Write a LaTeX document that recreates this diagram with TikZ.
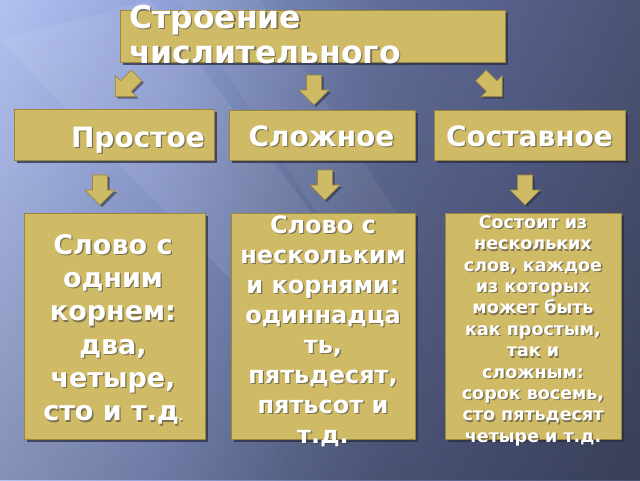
\documentclass[tikz,border=0pt]{standalone}
\usepackage{fontspec}
\setmainfont{DejaVu Sans}
\usetikzlibrary{shadows,fadings,calc}
\definecolor{boxfill}{HTML}{CFBA65}
\definecolor{boxedge}{HTML}{9A863C}
\definecolor{shd}{HTML}{2A2E44}
\definecolor{txtshd}{HTML}{3A3A40}
\definecolor{bgA}{HTML}{B2C2F2}
\definecolor{bgB}{HTML}{93A3DA}
\definecolor{bgC}{HTML}{7282B0}
\definecolor{bgD}{HTML}{626E98}
\definecolor{bgE}{HTML}{56608A}
\definecolor{bgF}{HTML}{4C5474}
\pgfdeclarehorizontalshading{bgshade}{100bp}{color(0bp)=(bgA); color(25bp)=(bgA); color(37.5bp)=(bgB); color(47.5bp)=(bgC); color(55bp)=(bgD); color(65bp)=(bgE); color(75bp)=(bgF); color(100bp)=(bgF)}
\tikzset{
  box/.style={draw=boxedge, line width=1pt, fill=boxfill, inner sep=0pt,
    drop shadow={shadow xshift=2.5pt, shadow yshift=-2.5pt, fill=shd, opacity=0.75}},
  lbl/.style={inner sep=0pt, font=\bfseries\fontsize{28}{34}\selectfont},
  pics/blockarrow/.style={code={\path[pic actions] (-7.5,-15)--(7.5,-15)--(7.5,0)--(15,0)--(0,15)--(-15,0)--(-7.5,0)--cycle;}},
  arrowshadow/.style={fill=shd, fill opacity=0.6},
  arrowbody/.style={fill=boxfill, draw=boxedge, line width=0.6pt}
}
\newcommand\shlabel[4]{%
  \node[#3, text=txtshd, text opacity=0.55, xshift=1.3pt, yshift=-1.3pt] at (#2) {#4};
  \node[#3, text=white] (#1) at (#2) {#4};}
\newcommand\myarrow[3]{%
  \pic[arrowshadow, rotate=#3] at ($(#2)+(2,2)$) {blockarrow};
  \pic[arrowbody, rotate=#3] (#1) at (#2) {blockarrow};}
\begin{document}
\begin{tikzpicture}[x=1pt,y=-1pt]
\useasboundingbox (0,0) rectangle (640,480);
\shade[shading=bgshade] (0,0) rectangle (640,480);
\fill[black, path fading=north, fill opacity=0.25] (0,0) rectangle (640,480);
\fill[white, fill opacity=0.08] (0,40) -- (150,0) -- (340,250) -- (250,300) -- cycle;
\fill[white, fill opacity=0.05] (180,0) -- (260,0) -- (420,250) -- (360,280) -- cycle;

% boxes
\node[box, minimum width=385pt, minimum height=52pt] (title) at (312.5,36) {};
\node[box, minimum width=200pt, minimum height=51pt] (b1) at (114,134.5) {};
\node[box, minimum width=186pt, minimum height=50pt] (b2) at (322,135) {};
\node[box, minimum width=191pt, minimum height=50pt] (b3) at (529.5,135) {};
\node[box, minimum width=181pt, minimum height=226pt] (d1) at (114.5,326) {};
\node[box, minimum width=184pt, minimum height=226pt] (d2) at (323,326) {};
\node[box, minimum width=176pt, minimum height=226pt] (d3) at (533,326) {};

% arrows
\coordinate (pa0) at (125.9,86.1);
\coordinate (pa1) at (314,90);
\coordinate (pa2) at (491.6,86.1);
\coordinate (pb1) at (100,190);
\coordinate (pb2) at (325,185);
\coordinate (pb3) at (525,190);
\myarrow{a0}{pa0}{-45}
\myarrow{a1}{pa1}{0}
\myarrow{a2}{pa2}{45}
\myarrow{c1}{pb1}{0}
\myarrow{c2}{pb2}{0}
\myarrow{c3}{pb3}{0}

% texts (anchor=base is the baseline of the last line)
\coordinate (tt) at (129,63);
\shlabel{ttl}{tt}{lbl, anchor=base west, align=left, font=\bfseries\fontsize{31.5}{35}\selectfont}{Строение\\числительного}
\coordinate (t1) at (205,147.3);
\shlabel{l1}{t1}{lbl, anchor=base east}{Простое}
\coordinate (t2) at (321.5,146);
\shlabel{l2}{t2}{lbl, anchor=base}{Сложное}
\coordinate (t3) at (529.5,146);
\shlabel{l3}{t3}{lbl, anchor=base}{Составное}
\coordinate (s1) at (113,420.7);
\shlabel{x1}{s1}{lbl, anchor=base, align=center, font=\bfseries\fontsize{27}{33.3}\selectfont}{Слово с\\одним\\корнем: \\ два,\\четыре,\\сто и т.д{\fontsize{10}{10}\selectfont.}}
\coordinate (s2) at (323,443.3);
\shlabel{x2}{s2}{lbl, anchor=base, align=center, font=\bfseries\fontsize{24}{30}\selectfont}{Слово с\\нескольким\\и корнями:\\одиннадца\\ть,\\пятьдесят,\\пятьсот и\\т.д.}
\coordinate (s3) at (533,442.3);
\shlabel{x3}{s3}{lbl, anchor=base, align=center, font=\bfseries\fontsize{17.5}{21.4}\selectfont}{Состоит из\\нескольких\\слов, каждое\\из которых\\может быть\\как простым,\\так и\\сложным:\\сорок восемь,\\сто пятьдесят\\четыре и т.д.}
\end{tikzpicture}
\end{document}
